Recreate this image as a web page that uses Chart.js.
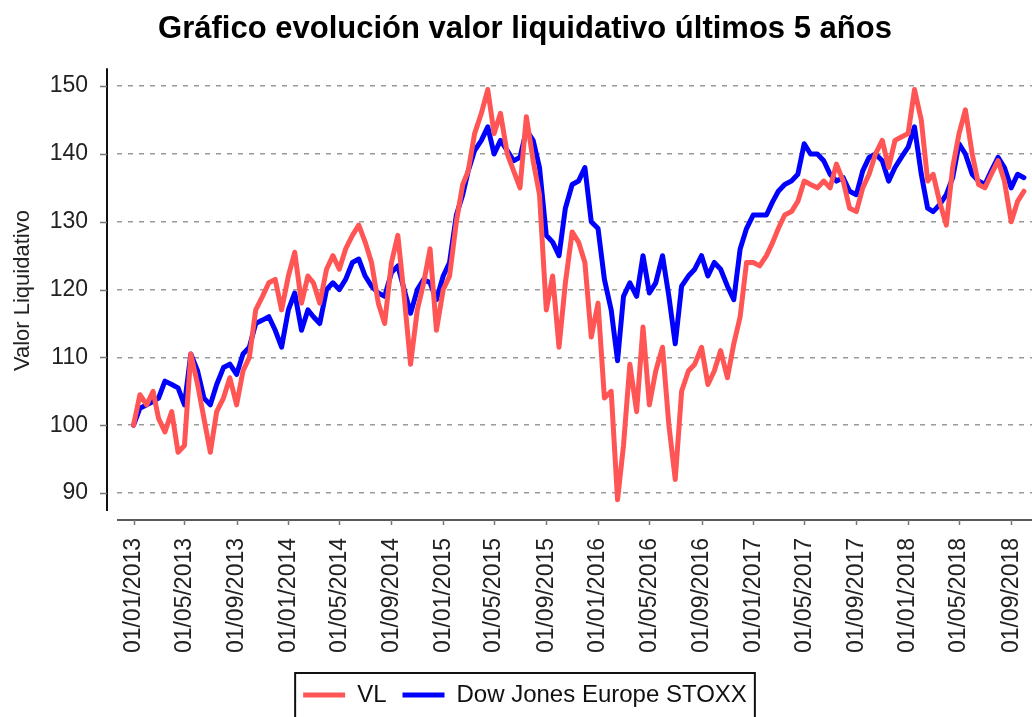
<!DOCTYPE html>
<html>
<head>
<meta charset="utf-8">
<script src="https://cdn.jsdelivr.net/npm/chart.js@4.4.1/dist/chart.umd.min.js"></script>
<style>
html,body{margin:0;padding:0;background:#fff;}
#wrap{width:1032px;height:717px;}
</style>
</head>
<body>
<div id="wrap"><canvas id="c" width="1032" height="717"></canvas></div>
<script>
// ---- data (semi-monthly readings) ----
const dates = [
 '2013-01-01','2013-01-16','2013-02-01','2013-02-16','2013-03-01','2013-03-16','2013-04-01','2013-04-16','2013-05-01','2013-05-16','2013-06-01','2013-06-16',
 '2013-07-01','2013-07-16','2013-08-01','2013-08-16','2013-09-01','2013-09-16','2013-10-01','2013-10-16','2013-11-01','2013-11-16','2013-12-01','2013-12-16',
 '2014-01-01','2014-01-16','2014-02-01','2014-02-16','2014-03-01','2014-03-16','2014-04-01','2014-04-16','2014-05-01','2014-05-16','2014-06-01','2014-06-16',
 '2014-07-01','2014-07-16','2014-08-01','2014-08-16','2014-09-01','2014-09-16','2014-10-01','2014-10-16','2014-11-01','2014-11-16','2014-12-01','2014-12-16',
 '2015-01-01','2015-01-16','2015-02-01','2015-02-16','2015-03-01','2015-03-16','2015-04-01','2015-04-16','2015-05-01','2015-05-16','2015-06-01','2015-06-16',
 '2015-07-01','2015-07-16','2015-08-01','2015-08-16','2015-09-01','2015-09-16','2015-10-01','2015-10-16','2015-11-01','2015-11-16','2015-12-01','2015-12-16',
 '2016-01-01','2016-01-16','2016-02-01','2016-02-16','2016-03-01','2016-03-16','2016-04-01','2016-04-16','2016-05-01','2016-05-16','2016-06-01','2016-06-16',
 '2016-07-01','2016-07-16','2016-08-01','2016-08-16','2016-09-01','2016-09-16','2016-10-01','2016-10-16','2016-11-01','2016-11-16','2016-12-01','2016-12-16',
 '2017-01-01','2017-01-16','2017-02-01','2017-02-16','2017-03-01','2017-03-16','2017-04-01','2017-04-16','2017-05-01','2017-05-16','2017-06-01','2017-06-16',
 '2017-07-01','2017-07-16','2017-08-01','2017-08-16','2017-09-01','2017-09-16','2017-10-01','2017-10-16','2017-11-01','2017-11-16','2017-12-01','2017-12-16',
 '2018-01-01','2018-01-16','2018-02-01','2018-02-16','2018-03-01','2018-03-16','2018-04-01','2018-04-16','2018-05-01','2018-05-16','2018-06-01','2018-06-16',
 '2018-07-01','2018-07-16','2018-08-01','2018-08-16','2018-09-01','2018-09-16','2018-10-01'
];
const vl = [
 100,104.5,103,105,101,99,102,96,97,110.5,106,101, 96,102,104,107,103,108,110,117,119,121,121.5,117,
 122,125.5,118,122,121,118,123,125,123,126,128,129.5, 127,124,118,115,124,128,119,109,117,121,126,114,
 120,122,130,135.5,137.5,143,146,149.5,143,146,140,137.5, 135,145.5,139,134,117,122,111.5,121,128.5,127,124,113,
 118,104,105,89,97,109,102,114.5,103,108,111.5,100, 92,105,108,109,111.5,106,108,111,107,112,116,124,
 124,123.5,125,127,129,131,131.5,133,136,135.5,135,136, 135,138.5,136,132,131.5,135,137,140,142,138,142,142.5,
 143,149.5,145,136,137,133,129.5,138,143,146.5,140,135.5, 135,137,139,136,130,133,134.5
];
const stoxx = [
 100,102.5,103,103.5,104,106.5,106,105.5,103,110.5,108,104, 103,106,108.5,109,107.5,110.5,111.5,115,115.5,116,114,111.5,
 117,119.5,114,117,116,115,120,121,120,121.5,124,124.5, 122,120.5,119.5,119,122.5,123.5,120,116.5,120,121.5,121,118.5,
 122,124,131,134,137.5,140.5,142,144,140,142,140.5,139, 139.5,143.5,142,138,128,127,125,132,135.5,136,138,130,
 129,121.5,117,109.5,119,121,119,125,119.5,121,125,119, 112,120.5,122,123,125,122,124,123,120.5,118.5,126,129,
 131,131,131,133,134.5,135.5,136,137,141.5,140,140,139, 137,136,136.5,134.5,134,137.5,139.5,140,139,136,138,139.5,
 141,144,137,132,131.5,132.5,134,136.5,141.5,140,137,136, 135.5,137.5,139.5,138,135,137,136.5
];
const seriesNames = ['VL', 'Dow Jones Europe STOXX'];
const xTickLabels = [
 '01/01/2013','01/05/2013','01/09/2013','01/01/2014','01/05/2014','01/09/2014',
 '01/01/2015','01/05/2015','01/09/2015','01/01/2016','01/05/2016','01/09/2016',
 '01/01/2017','01/05/2017','01/09/2017','01/01/2018','01/05/2018','01/09/2018'
];
const yTicks = [90,100,110,120,130,140,150];

// ---- helpers ----
function isoToTime(s){ const p = s.split('-').map(Number); return Date.UTC(p[0], p[1]-1, p[2]); }
function labelToTime(s){ const p = s.split('/').map(Number); return Date.UTC(p[2], p[1]-1, p[0]); }

const vlData = dates.map((d,i)=>({x: isoToTime(d), y: vl[i]}));
const stoxxData = dates.map((d,i)=>({x: isoToTime(d), y: stoxx[i]}));

const FONT = 'Liberation Sans, Arial, sans-serif';

const axesPlugin = {
  id: 'offsetAxes',
  afterDraw(chart){
    const {ctx, chartArea: a, scales: {x, y}} = chart;
    ctx.save();
    const ax = a.left - 10;
    ctx.strokeStyle = '#111'; ctx.lineWidth = 2;
    ctx.beginPath(); ctx.moveTo(ax, a.top - 2); ctx.lineTo(ax, a.bottom); ctx.stroke();
    ctx.strokeStyle = '#777'; ctx.lineWidth = 1.5;
    y.ticks.forEach(t => { const py = Math.round(y.getPixelForValue(t.value)) + 0.5;
      ctx.beginPath(); ctx.moveTo(ax - 7, py); ctx.lineTo(ax, py); ctx.stroke(); });
    const ay = a.bottom + 9;
    ctx.strokeStyle = '#222'; ctx.lineWidth = 1.5;
    ctx.beginPath(); ctx.moveTo(a.left, ay); ctx.lineTo(a.right, ay); ctx.stroke();
    ctx.strokeStyle = '#777';
    x.ticks.forEach(t => { const px = Math.round(x.getPixelForValue(t.value)) + 0.5;
      ctx.beginPath(); ctx.moveTo(px, ay); ctx.lineTo(px, ay + 5); ctx.stroke(); });
    // legend frame
    const lg = chart.legend;
    if (lg && lg.legendHitBoxes && lg.legendHitBoxes.length){
      const hb = lg.legendHitBoxes;
      const last = hb[hb.length - 1];
      const left = hb[0].left - 8, right = last.left + last.width + 8, top = hb[0].top - 10;
      ctx.strokeStyle = '#111'; ctx.lineWidth = 2;
      ctx.strokeRect(left, top, right - left, chart.height);
    }
    ctx.restore();
  }
};

new Chart(document.getElementById('c'), {
  type: 'line',
  data: {
    datasets: [
      { label: seriesNames[0], data: vlData, borderColor: 'rgb(255,85,85)', backgroundColor: 'rgb(255,85,85)',
        borderWidth: 5, pointRadius: 0, tension: 0, borderJoinStyle: 'round', borderCapStyle: 'round' },
      { label: seriesNames[1], data: stoxxData, borderColor: 'rgb(0,0,255)', backgroundColor: 'rgb(0,0,255)',
        borderWidth: 5, pointRadius: 0, tension: 0, borderJoinStyle: 'round', borderCapStyle: 'round' }
    ]
  },
  options: {
    responsive: false,
    animation: false,
    devicePixelRatio: 1,
    layout: { padding: { left: 18, right: 0, top: 0, bottom: 0 } },
    plugins: {
      title: { display: true, text: 'Gráfico evolución valor liquidativo últimos 5 años', color: '#000',
        font: { family: FONT, size: 31, weight: 'bold' }, padding: { top: 11, bottom: 22 } },
      legend: { position: 'bottom',
        labels: { boxWidth: 42, boxHeight: 5, padding: 16, color: '#111', font: { family: FONT, size: 24 },
          generateLabels: (chart) => Chart.defaults.plugins.legend.labels.generateLabels(chart).map(l => Object.assign(l, {lineWidth: 0})) } },
      tooltip: { enabled: false }
    },
    scales: {
      x: {
        type: 'linear',
        min: isoToTime('2012-11-23'), max: isoToTime('2018-10-20'),
        afterBuildTicks: s => { s.ticks = xTickLabels.map(l => ({ value: labelToTime(l) })); },
        afterFit: s => { s.height = 156; s.paddingLeft = 0; s.paddingRight = 0; },
        grid: { display: false, drawTicks: false },
        border: { display: false },
        ticks: { autoSkip: false, maxRotation: 90, minRotation: 90, padding: 27, color: '#222',
          font: { family: FONT, size: 23 }, callback: (v, i) => xTickLabels[i] }
      },
      y: {
        min: 87.35, max: 152.35,
        afterBuildTicks: s => { s.ticks = yTicks.map(v => ({ value: v })); },
        afterFit: s => { s.width = 99; s.paddingTop = 0; s.paddingBottom = 0; },
        grid: { color: '#9a9a9a', lineWidth: 1.5, drawTicks: false },
        border: { display: false, dash: [5, 6] },
        ticks: { padding: 29, color: '#222', font: { family: FONT, size: 23 } },
        title: { display: true, text: 'Valor Liquidativo', color: '#222', font: { family: FONT, size: 22 },
          padding: { top: -8, bottom: 0 } }
      }
    }
  },
  plugins: [axesPlugin]
});
</script>
</body>
</html>
